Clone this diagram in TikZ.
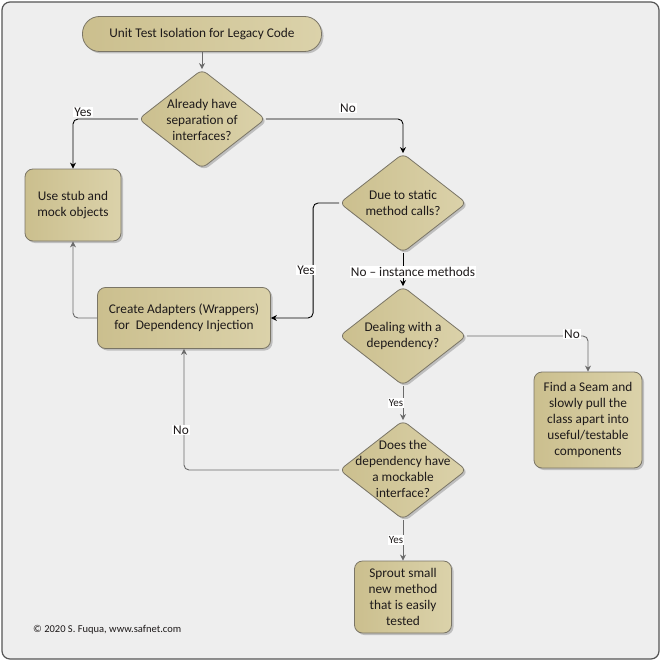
\documentclass[tikz,border=0pt]{standalone}
\usepackage{fontspec}
\setmainfont{Carlito}
\usetikzlibrary{shapes.geometric,arrows.meta,shadows}
\definecolor{bg}{HTML}{EEEEEE}
\definecolor{framecol}{HTML}{555555}
\definecolor{tanA}{HTML}{CBBF8E}
\definecolor{tanB}{HTML}{DBD2AA}
\definecolor{edgeline}{HTML}{7A7566}
\definecolor{grayline}{HTML}{6A6A6A}
\definecolor{txt}{HTML}{1E1A1A}
\begin{document}
\begin{tikzpicture}[x=1pt,y=-1pt,
  every node/.style={font=\fontsize{13.3}{16}\selectfont, text=txt},
  shapebase/.style={draw=edgeline, line width=0.8pt, left color=tanA, right color=tanB,
    drop shadow={shadow xshift=2pt,shadow yshift=-2pt,opacity=0.2,fill=black}},
  procbox/.style={shapebase, rectangle, rounded corners=8pt, align=center, inner sep=0pt},
  decision/.style={shapebase, diamond, rounded corners=6pt, minimum width=127pt, minimum height=99pt, inner sep=0pt},
  dtext/.style={align=center, inner sep=0pt},
  blackflow/.style={draw=black, line width=0.9pt, rounded corners=5pt, -{Stealth[length=6pt,width=6pt]}},
  grayflow/.style={draw=grayline, line width=0.9pt, rounded corners=5pt, -{Stealth[length=6pt,width=6pt]}},
  lbl/.style={fill=white, inner sep=1pt},
  smalllbl/.style={fill=white, inner sep=1pt, font=\fontsize{11}{13}\selectfont},
]
\useasboundingbox (0,0) rectangle (661,661);
\fill[white] (0,0) rectangle (661,661);
\draw[draw=framecol, fill=bg, rounded corners=8pt, line width=1.2pt] (2,2) rectangle (659,659);

% nodes
\node[procbox, rounded corners=17pt, minimum width=239pt, minimum height=35pt] (start) at (202,34) {Unit Test Isolation for Legacy Code};

\node[decision] (d1) at (202,119) {};
\node[dtext] (t1) at (202,120) {Already have\\separation of\\interfaces?};

\node[procbox, minimum width=96pt, minimum height=72pt] (stub) at (73,205) {Use stub and\\mock objects};

\node[decision] (d2) at (403,203) {};
\node[dtext] (t2) at (403,203) {Due to static\\method calls?};

\node[procbox, minimum width=173pt, minimum height=61pt] (adapt) at (184,318) {Create Adapters (Wrappers)\\for~ Dependency Injection};

\node[decision] (d3) at (403,336) {};
\node[dtext] (t3) at (403,336) {Dealing with a\\dependency?};

\node[procbox, minimum width=108pt, minimum height=96pt] (seam) at (588,420) {Find a Seam and\\slowly pull the\\class apart into\\useful/testable\\components};

\node[decision] (d4) at (403,470) {};
\node[dtext] (t4) at (403,469) {Does the\\dependency have\\a mockable\\interface?};

\node[procbox, minimum width=97pt, minimum height=72pt] (sprout) at (403,597) {Sprout small\\new method\\that is easily\\tested};

\node[anchor=west, inner sep=0pt, font=\fontsize{10.5}{12}\selectfont] (copy) at (33,630) {© 2020 S. Fuqua, www.safnet.com};

% connectors
\draw[grayflow] (start.south) -- (d1.north);
\draw[blackflow] (d1.west) -| (stub.north);
\node[lbl] (y1) at (83,112) {Yes};
\draw[blackflow] (d1.east) -| (d2.north);
\node[lbl] (n1) at (348,108) {No};
\draw[blackflow] (d2.west) -- ++(-26,0) |- (adapt.east);
\node[lbl] (y2) at (306,270) {Yes};
\draw[blackflow] (d2.south) -- (d3.north);
\node[lbl] (n2) at (413,272) {No – instance methods};
\draw[grayflow] (adapt.west) -| (stub.south);
\draw[grayflow] (d3.east) -| (seam.north);
\node[lbl] (n3) at (572,334) {No};
\draw[grayflow] (d3.south) -- (d4.north);
\node[smalllbl] (y3) at (396,403) {Yes};
\draw[grayflow] (d4.west) -| (adapt.south);
\node[lbl] (n4) at (181,430) {No};
\draw[grayflow] (d4.south) -- (sprout.north);
\node[smalllbl] (y4) at (396,540) {Yes};
\end{tikzpicture}
\end{document}
